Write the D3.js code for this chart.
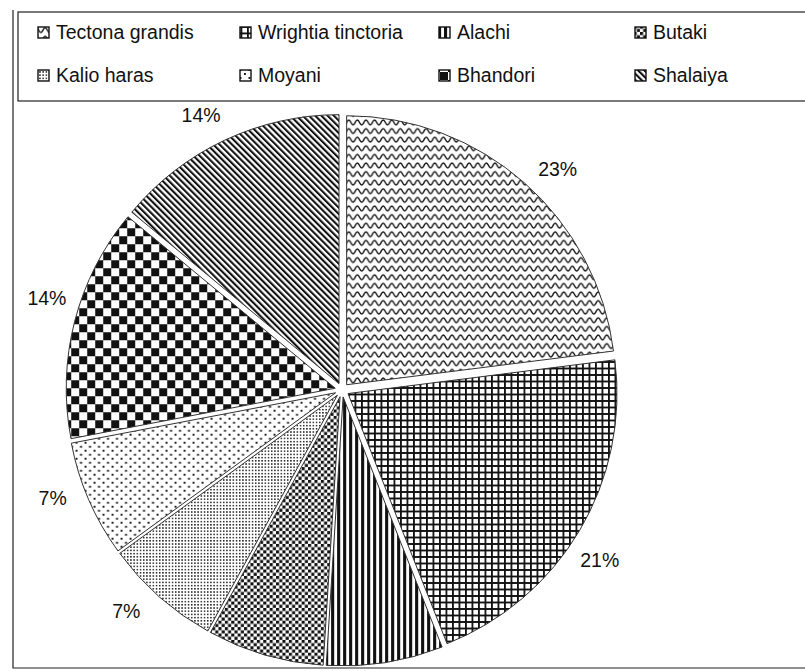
<!DOCTYPE html>
<html>
<head>
<meta charset="utf-8">
<script src="https://cdn.jsdelivr.net/npm/d3@7/dist/d3.min.js"></script>
<style>
  html, body { margin: 0; padding: 0; background: #fff; }
  svg { display: block; font-family: "Liberation Sans", Arial, sans-serif; }
</style>
</head>
<body>
<svg id="chart" width="805" height="671"></svg>
<script>
// Species share of the sampled trees (percent)
const species = ["Tectona grandis", "Wrightia tinctoria", "Alachi", "Butaki",
                 "Kalio haras", "Moyani", "Bhandori", "Shalaiya"];
const shares = [23, 21, 7, 7, 7, 7, 14, 14];
const patternIds = ["wave", "grid", "vstripe", "blocks", "finedot", "sparsedot", "checker", "diag"];

const W = 805, H = 671;
const svg = d3.select("#chart");
const defs = svg.append("defs");

// ---- hatch patterns -------------------------------------------------------
function tile(id, w, h, extra) {
  const p = defs.append("pattern").attr("id", id)
    .attr("patternUnits", "userSpaceOnUse").attr("width", w).attr("height", h);
  if (extra) p.attr("patternTransform", extra);
  p.append("rect").attr("width", w).attr("height", h).attr("fill", "#fff");
  return p;
}
// wavy horizontal lines
tile("wave", 8.6, 8.6).append("path")
  .attr("d", "M-4.3 4.3 Q-2.15 9 0 4.3 Q2.15 -0.4 4.3 4.3 Q6.45 9 8.6 4.3 Q10.75 -0.4 12.9 4.3")
  .attr("fill", "none").attr("stroke", "#111").attr("stroke-width", 1.4);
// square grid
tile("grid", 6.5, 6.5).append("path")
  .attr("d", "M0 0.9 H6.5 M0.9 0 V6.5")
  .attr("stroke", "#111").attr("stroke-width", 1.8);
// vertical stripes
tile("vstripe", 6, 6).append("rect")
  .attr("x", 0).attr("y", 0).attr("width", 3.1).attr("height", 6).attr("fill", "#111");
// staggered blocks
{
  const p = tile("blocks", 6.4, 6.4);
  p.append("rect").attr("x", 0).attr("y", 0).attr("width", 3.1).attr("height", 3.1).attr("fill", "#111");
  p.append("rect").attr("x", 3.2).attr("y", 3.2).attr("width", 3.1).attr("height", 3.1).attr("fill", "#111");
}
// fine dot screen
tile("finedot", 3.2, 3.2).append("rect")
  .attr("x", 0.8).attr("y", 0.8).attr("width", 1.5).attr("height", 1.5).attr("fill", "#222");
// sparse dots
{
  const p = tile("sparsedot", 9, 8);
  p.append("rect").attr("x", 1).attr("y", 1).attr("width", 1.9).attr("height", 1.9).attr("fill", "#111");
  p.append("rect").attr("x", 5.5).attr("y", 5).attr("width", 1.9).attr("height", 1.9).attr("fill", "#111");
}
// checkerboard
{
  const p = tile("checker", 16, 16);
  p.append("rect").attr("x", 0).attr("y", 0).attr("width", 8).attr("height", 8).attr("fill", "#111");
  p.append("rect").attr("x", 8).attr("y", 8).attr("width", 8).attr("height", 8).attr("fill", "#111");
}
// diagonal stripes (top-left to bottom-right)
tile("diag", 4.4, 4.4, "rotate(-45)").append("rect")
  .attr("x", 0).attr("y", 0).attr("width", 2.1).attr("height", 4.4).attr("fill", "#111");

// ---- frame and legend box ------------------------------------------------
svg.append("path")
  .attr("d", "M13 10 V668 H805")
  .attr("fill", "none").attr("stroke", "#222").attr("stroke-width", 1.2);
svg.append("rect")
  .attr("x", 18).attr("y", 12).attr("width", 800).attr("height", 89)
  .attr("fill", "#fff").attr("stroke", "#222").attr("stroke-width", 1.2);

const legendCols = [38, 240, 439, 635];
const legendRows = [39, 82];
const legend = svg.append("g");
species.forEach((name, i) => {
  const x = legendCols[i % 4];
  const y = legendRows[Math.floor(i / 4)];
  legend.append("rect")
    .attr("x", x).attr("y", y - 12).attr("width", 11).attr("height", 11)
    .attr("fill", `url(#${patternIds[i]})`)
    .attr("stroke", "#111").attr("stroke-width", 1.4);
  legend.append("text")
    .attr("x", x + 18).attr("y", y)
    .attr("font-size", 19.5).attr("fill", "#111")
    .text(name);
});

// ---- exploded pie --------------------------------------------------------
const cx = 342, cy = 390, R = 269, explode = 7, labelR = 309, labelNudge = 0.05;
const labelTop = 115; // labels slide along their circle to stay below the legend
const pie = d3.pie().sort(null).value(d => d)(shares);
const arc = d3.arc().innerRadius(0).outerRadius(R);

const slices = svg.append("g").attr("transform", `translate(${cx},${cy})`);
slices.selectAll("path").data(pie).join("path")
  .attr("transform", d => {
    const m = (d.startAngle + d.endAngle) / 2;
    return `translate(${Math.sin(m) * explode},${-Math.cos(m) * explode})`;
  })
  .attr("d", arc)
  .attr("fill", (d, i) => `url(#${patternIds[i]})`)
  .attr("stroke", "#333").attr("stroke-width", 1);

// percentage labels outside the slices (only those that land inside the frame)
const labelData = pie.map(d => {
  const m = (d.startAngle + d.endAngle) / 2 + labelNudge;
  let x = cx + Math.sin(m) * labelR, y = cy - Math.cos(m) * labelR;
  if (y < labelTop) {
    y = labelTop;
    x = cx + Math.sign(Math.sin(m)) * Math.sqrt(labelR * labelR - (cy - y) * (cy - y));
  }
  return { text: d.value + "%", x, y };
}).filter(d => d.y < 655);

svg.append("g").selectAll("text").data(labelData).join("text")
  .attr("x", d => d.x).attr("y", d => d.y + 7)
  .attr("text-anchor", "middle")
  .attr("font-size", 19.5).attr("fill", "#111")
  .text(d => d.text);
</script>
</body>
</html>
